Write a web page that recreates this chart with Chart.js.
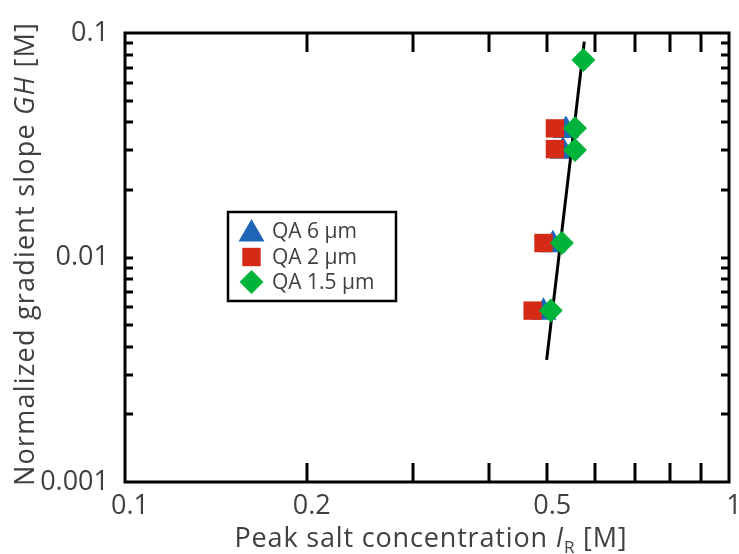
<!DOCTYPE html>
<html lang="en">
<head>
    <meta charset="UTF-8">
    <title>Normalized gradient slope vs peak salt concentration</title>
    <script src="https://cdn.jsdelivr.net/npm/chart.js@4.4.1/dist/chart.umd.min.js"></script>
    <style>
        body {
            margin: 0;
            background: #fff;
        }
        .chart-box {
            position: relative;
            width: 739px;
            height: 554px;
        }
    </style>
</head>
<body>
    <div class="chart-box">
        <canvas id="chart"></canvas>
    </div>

    <script>
        // series (x = I_R [M], y = GH [M])
        const qa6X = [0.537, 0.531, 0.511, 0.493];
        const qa6Y = [0.0368, 0.0297, 0.0114, 0.0057];
        const qa2X = [0.515, 0.515, 0.493, 0.473];
        const qa2Y = [0.0376, 0.0304, 0.0116, 0.0058];
        const qa15X = [0.574, 0.556, 0.556, 0.529, 0.507];
        const qa15Y = [0.0758, 0.0376, 0.0301, 0.0116, 0.0058];
        const fitX = [0.499, 0.576];
        const fitY = [0.0035, 0.0915];

        const seriesNames = ['QA 6 \u00b5m', 'QA 2 \u00b5m', 'QA 1.5 \u00b5m'];
        const xTickLabels = ['0.1', '0.2', '0.5', '1'];
        const yTickLabels = ['0.001', '0.01', '0.1'];

        const FONT = '"Open Sans", Lato, sans-serif';
        const TEXT = '#404040';

        function toPoints(xs, ys) {
            return xs.map((x, i) => ({ x: x, y: ys[i] }));
        }

        function pickLabel(list, v) {
            const hit = list.find(l => Math.abs(Number(l) - v) < 1e-9);
            return hit === undefined ? '' : hit;
        }

        // only 1..9 x 10^n get a tick mark
        function isDecadeStep(v) {
            const m = v / Math.pow(10, Math.floor(Math.log10(v) + 1e-9));
            return Math.abs(m - Math.round(m)) < 1e-6;
        }

        // draws a run of [text, font, dy] pieces centred on 0, stretched to a width
        function drawRun(ctx, parts, target) {
            let w = 0, n = 0;
            parts.forEach(p => { ctx.font = p[1]; w += ctx.measureText(p[0]).width; n += p[0].length; });
            const gap = (target - w) / n;
            let cx = -target / 2;
            parts.forEach(p => {
                ctx.font = p[1];
                for (const ch of p[0]) {
                    ctx.fillText(ch, cx, p[2]);
                    cx += ctx.measureText(ch).width + gap;
                }
            });
        }

        // frame, inward ticks, axis titles and boxed legend
        const decorations = {
            id: 'decorations',
            afterDraw(chart) {
                const ctx = chart.ctx;
                const a = chart.chartArea;
                const xs = chart.scales.x;
                const ys = chart.scales.y;
                ctx.save();
                ctx.strokeStyle = '#000';
                ctx.lineWidth = 3;
                ctx.lineCap = 'butt';

                xs.ticks.filter(t => isDecadeStep(t.value)).forEach(t => {
                    const px = Math.round(xs.getPixelForValue(t.value));
                    if (px <= a.left + 2 || px >= a.right - 2) return;
                    ctx.beginPath();
                    ctx.moveTo(px, a.bottom); ctx.lineTo(px, a.bottom - 19);
                    ctx.moveTo(px, a.top); ctx.lineTo(px, a.top + 19);
                    ctx.stroke();
                });
                ys.ticks.filter(t => isDecadeStep(t.value)).forEach(t => {
                    const py = Math.round(ys.getPixelForValue(t.value));
                    if (py <= a.top + 2 || py >= a.bottom - 2) return;
                    ctx.beginPath();
                    ctx.moveTo(a.left, py); ctx.lineTo(a.left + 8, py);
                    ctx.moveTo(a.right, py); ctx.lineTo(a.right - 8, py);
                    ctx.stroke();
                });
                ctx.strokeRect(a.left, a.top, a.right - a.left, a.bottom - a.top);

                ctx.fillStyle = TEXT;
                ctx.textBaseline = 'alphabetic';
                ctx.textAlign = 'left';
                const reg = '27px ' + FONT;
                const ita = 'italic 27px ' + FONT;
                const sub = '17px ' + FONT;

                // x title: Peak salt concentration I_R [M]
                ctx.save();
                ctx.translate(431, 547);
                drawRun(ctx, [
                    ['Peak salt concentration ', reg, 0],
                    ['I', ita, 0],
                    ['R', sub, 6],
                    [' [M]', reg, 0]
                ], 393);
                ctx.restore();

                // y title: Normalized gradient slope GH [M]
                ctx.save();
                ctx.translate(34, 254);
                ctx.rotate(-Math.PI / 2);
                drawRun(ctx, [
                    ['Normalized gradient slope ', reg, 0],
                    ['GH', ita, 0],
                    [' [M]', reg, 0]
                ], 464);
                ctx.restore();

                // legend box
                ctx.lineWidth = 2.5;
                ctx.strokeRect(228, 212, 168, 89);
                const rows = [231, 257, 282];
                ctx.font = '21px ' + FONT;
                ctx.textBaseline = 'middle';
                [0, 1, 2].forEach(i => {
                    const ds = chart.data.datasets[i];
                    ctx.fillStyle = ds.backgroundColor;
                    Chart.helpers.drawPoint(ctx, {
                        pointStyle: ds.pointStyle,
                        radius: ds.pointRadius,
                        rotation: 0,
                        borderWidth: 0
                    }, 251.5, rows[i] + (i === 0 ? 3 : 0));
                    ctx.fillStyle = TEXT;
                    ctx.fillText(seriesNames[i], 272, rows[i] + 1);
                });
                ctx.restore();
            }
        };

        const ctx = document.getElementById('chart').getContext('2d');
        new Chart(ctx, {
            type: 'scatter',
            data: {
                datasets: [
                    {
                        label: seriesNames[0],
                        data: toPoints(qa6X, qa6Y),
                        pointStyle: 'triangle',
                        pointRadius: 15,
                        backgroundColor: '#1f65b6',
                        borderWidth: 0,
                        order: 3
                    },
                    {
                        label: seriesNames[1],
                        data: toPoints(qa2X, qa2Y),
                        pointStyle: 'rect',
                        pointRadius: 13,
                        backgroundColor: '#d52b16',
                        borderWidth: 0,
                        order: 1
                    },
                    {
                        label: seriesNames[2],
                        data: toPoints(qa15X, qa15Y),
                        pointStyle: 'rectRot',
                        pointRadius: 12,
                        backgroundColor: '#00b33a',
                        borderWidth: 0,
                        order: 0
                    },
                    {
                        label: 'fit',
                        data: toPoints(fitX, fitY),
                        showLine: true,
                        borderColor: '#000',
                        borderWidth: 3,
                        pointRadius: 0,
                        order: 2
                    }
                ]
            },
            options: {
                responsive: true,
                maintainAspectRatio: false,
                devicePixelRatio: 1,
                animation: false,
                layout: {
                    autoPadding: false,
                    padding: { top: 33, right: 10, left: 0, bottom: 0 }
                },
                scales: {
                    x: {
                        type: 'logarithmic',
                        min: 0.1,
                        max: 1,
                        grid: { display: false, drawTicks: false },
                        border: { display: false },
                        afterFit: s => { s.height = 72; s.paddingRight = 0; s.paddingLeft = 0; },
                        ticks: {
                            autoSkip: false,
                            maxRotation: 0,
                            padding: 8,
                            labelOffset: 5,
                            color: TEXT,
                            font: { family: FONT, size: 27 },
                            callback: v => pickLabel(xTickLabels, v)
                        }
                    },
                    y: {
                        type: 'logarithmic',
                        min: 0.001,
                        max: 0.1,
                        grid: { display: false, drawTicks: false },
                        border: { display: false },
                        afterFit: s => { s.width = 125; s.paddingTop = 0; s.paddingBottom = 0; },
                        ticks: {
                            autoSkip: false,
                            padding: 16,
                            color: TEXT,
                            font: { family: FONT, size: 27 },
                            callback: v => pickLabel(yTickLabels, v)
                        }
                    }
                },
                plugins: {
                    legend: { display: false },
                    tooltip: { enabled: false }
                }
            },
            plugins: [decorations]
        });
    </script>
</body>
</html>
